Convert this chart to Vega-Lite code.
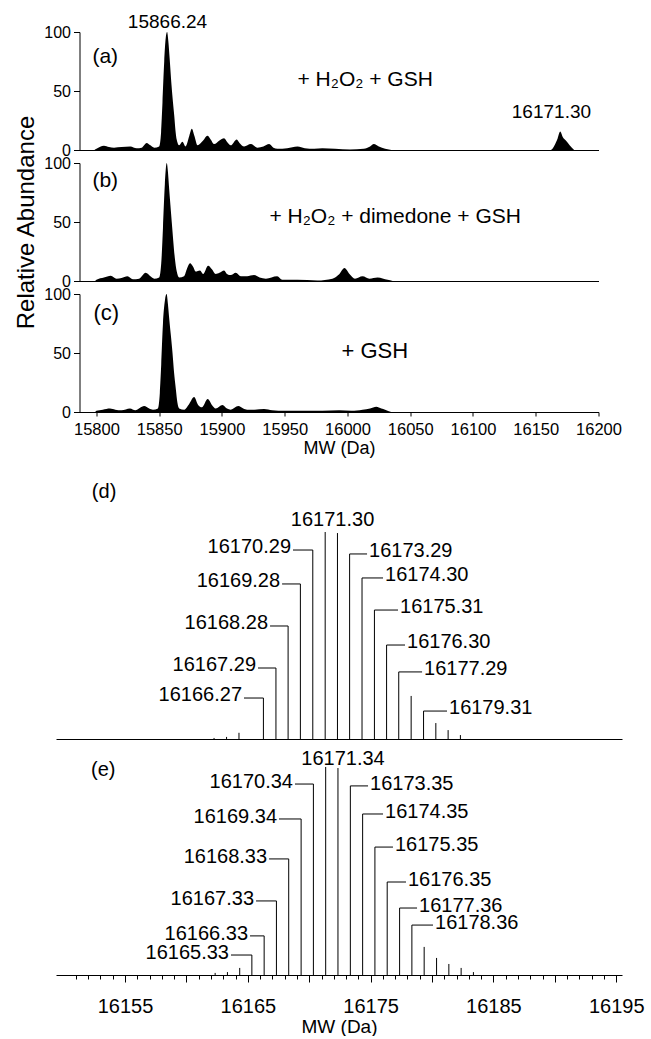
{
  "$schema": "https://vega.github.io/schema/vega-lite/v6.json",
  "padding": {"left": 14, "top": 12, "right": 5, "bottom": 0},
  "background": "white",
  "spacing": 13,
  "bounds": "flush",
  "center": true,
  "config": {
    "view": {"stroke": null},
    "font": "Liberation Sans",
    "axis": {"domainColor": "black", "tickColor": "black", "labelColor": "black", "titleColor": "black", "grid": false, "labelFont": "Liberation Sans", "titleFont": "Liberation Sans", "titleFontWeight": "normal", "domainWidth": 1, "tickWidth": 1},
    "text": {"font": "Liberation Sans", "color": "black"}
  },
  "datasets": {
    "a": [
      {"mw": 15798.4, "ab": 0}, {"mw": 15800, "ab": 1}, {"mw": 15806, "ab": 3.7}, {"mw": 15810, "ab": 2.5}, {"mw": 15814, "ab": 2}, {"mw": 15820, "ab": 2.5}, {"mw": 15827, "ab": 3}, {"mw": 15832, "ab": 1.5}, {"mw": 15836, "ab": 2}, {"mw": 15840, "ab": 6}, {"mw": 15843, "ab": 4}, {"mw": 15846, "ab": 2}, {"mw": 15850, "ab": 3},
      {"mw": 15851.5, "ab": 15}, {"mw": 15852.6, "ab": 40}, {"mw": 15854, "ab": 75}, {"mw": 15855.2, "ab": 95}, {"mw": 15856.3, "ab": 100}, {"mw": 15857.2, "ab": 93}, {"mw": 15858.3, "ab": 78}, {"mw": 15859.8, "ab": 55}, {"mw": 15861, "ab": 40}, {"mw": 15861.9, "ab": 30}, {"mw": 15863, "ab": 16}, {"mw": 15863.7, "ab": 10}, {"mw": 15865.9, "ab": 4}, {"mw": 15868.5, "ab": 7}, {"mw": 15871, "ab": 3},
      {"mw": 15874, "ab": 12}, {"mw": 15876, "ab": 18}, {"mw": 15878, "ab": 12}, {"mw": 15880.5, "ab": 4}, {"mw": 15885, "ab": 8}, {"mw": 15888.4, "ab": 12}, {"mw": 15891, "ab": 9}, {"mw": 15893.8, "ab": 5}, {"mw": 15898, "ab": 8}, {"mw": 15901.7, "ab": 10}, {"mw": 15904, "ab": 7}, {"mw": 15907, "ab": 4}, {"mw": 15911.8, "ab": 9}, {"mw": 15914, "ab": 6}, {"mw": 15917.7, "ab": 3}, {"mw": 15923, "ab": 5}, {"mw": 15928.3, "ab": 2}, {"mw": 15933, "ab": 3}, {"mw": 15937.6, "ab": 5}, {"mw": 15941, "ab": 2}, {"mw": 15944.2, "ab": 1}, {"mw": 15952, "ab": 1.5}, {"mw": 15960.2, "ab": 3}, {"mw": 15966, "ab": 1.5}, {"mw": 15973.5, "ab": 1}, {"mw": 15980, "ab": 1.5}, {"mw": 15990, "ab": 1}, {"mw": 16002, "ab": 0.5}, {"mw": 16013, "ab": 1}, {"mw": 16018, "ab": 3}, {"mw": 16021, "ab": 5}, {"mw": 16025, "ab": 3}, {"mw": 16030, "ab": 1}, {"mw": 16034, "ab": 0.3}, {"mw": 16036, "ab": 0},
      {"mw": 16162, "ab": 0}, {"mw": 16165, "ab": 4}, {"mw": 16167.5, "ab": 10}, {"mw": 16169.5, "ab": 15.6}, {"mw": 16171.5, "ab": 11}, {"mw": 16174, "ab": 8}, {"mw": 16177, "ab": 4}, {"mw": 16180.6, "ab": 0}
    ],
    "b": [
      {"mw": 15799, "ab": 0}, {"mw": 15800, "ab": 1}, {"mw": 15806, "ab": 3}, {"mw": 15811.4, "ab": 4.5}, {"mw": 15816, "ab": 2}, {"mw": 15820, "ab": 2.5}, {"mw": 15824.7, "ab": 4}, {"mw": 15829, "ab": 1.5}, {"mw": 15834, "ab": 2}, {"mw": 15839.3, "ab": 7}, {"mw": 15843, "ab": 4}, {"mw": 15846, "ab": 2}, {"mw": 15850, "ab": 3},
      {"mw": 15851.8, "ab": 18}, {"mw": 15853, "ab": 45}, {"mw": 15854.5, "ab": 82}, {"mw": 15856, "ab": 100}, {"mw": 15857, "ab": 92}, {"mw": 15857.8, "ab": 80}, {"mw": 15860, "ab": 50}, {"mw": 15861.2, "ab": 34}, {"mw": 15862.4, "ab": 20}, {"mw": 15864, "ab": 8}, {"mw": 15865.9, "ab": 3}, {"mw": 15869.8, "ab": 4}, {"mw": 15872, "ab": 10}, {"mw": 15874.6, "ab": 15}, {"mw": 15877, "ab": 12}, {"mw": 15879, "ab": 8}, {"mw": 15882.5, "ab": 9}, {"mw": 15885, "ab": 6}, {"mw": 15889, "ab": 13}, {"mw": 15892, "ab": 10}, {"mw": 15895, "ab": 6}, {"mw": 15898, "ab": 7}, {"mw": 15901.7, "ab": 9}, {"mw": 15904, "ab": 6}, {"mw": 15907, "ab": 5}, {"mw": 15911, "ab": 7}, {"mw": 15915, "ab": 4}, {"mw": 15920, "ab": 4}, {"mw": 15925.6, "ab": 5}, {"mw": 15930, "ab": 3}, {"mw": 15935, "ab": 2}, {"mw": 15944, "ab": 4}, {"mw": 15948, "ab": 1}, {"mw": 15955, "ab": 1}, {"mw": 15960, "ab": 1}, {"mw": 15976, "ab": 0.5},
      {"mw": 15988, "ab": 2}, {"mw": 15993.6, "ab": 6}, {"mw": 15997.6, "ab": 11}, {"mw": 16001.6, "ab": 6}, {"mw": 16006, "ab": 2}, {"mw": 16012, "ab": 4}, {"mw": 16017.5, "ab": 2}, {"mw": 16024, "ab": 3}, {"mw": 16032, "ab": 1}, {"mw": 16036, "ab": 0}
    ],
    "c": [
      {"mw": 15799, "ab": 0}, {"mw": 15800, "ab": 1}, {"mw": 15805, "ab": 2}, {"mw": 15810.8, "ab": 3}, {"mw": 15815, "ab": 2}, {"mw": 15820, "ab": 1.5}, {"mw": 15826.7, "ab": 3}, {"mw": 15831, "ab": 1.5}, {"mw": 15838, "ab": 5}, {"mw": 15842, "ab": 3}, {"mw": 15845, "ab": 2}, {"mw": 15849, "ab": 3},
      {"mw": 15850.5, "ab": 16}, {"mw": 15851.6, "ab": 40}, {"mw": 15853, "ab": 75}, {"mw": 15854.6, "ab": 95}, {"mw": 15855.9, "ab": 100}, {"mw": 15856.9, "ab": 92}, {"mw": 15857.9, "ab": 80}, {"mw": 15860.6, "ab": 50}, {"mw": 15861.8, "ab": 34}, {"mw": 15863.2, "ab": 20}, {"mw": 15864.5, "ab": 8}, {"mw": 15865.9, "ab": 3}, {"mw": 15870, "ab": 2}, {"mw": 15874, "ab": 7}, {"mw": 15877.8, "ab": 12.7}, {"mw": 15881, "ab": 6}, {"mw": 15884, "ab": 4}, {"mw": 15888.7, "ab": 11}, {"mw": 15892, "ab": 6}, {"mw": 15895, "ab": 3}, {"mw": 15900.4, "ab": 6}, {"mw": 15904, "ab": 3}, {"mw": 15907, "ab": 2}, {"mw": 15913, "ab": 5}, {"mw": 15917, "ab": 3}, {"mw": 15920, "ab": 2}, {"mw": 15926, "ab": 2}, {"mw": 15933.6, "ab": 2.5}, {"mw": 15940, "ab": 1.5}, {"mw": 15950, "ab": 1}, {"mw": 15960, "ab": 1}, {"mw": 15970, "ab": 1}, {"mw": 15980, "ab": 1}, {"mw": 15993.4, "ab": 1.5}, {"mw": 16003, "ab": 1}, {"mw": 16012, "ab": 2}, {"mw": 16018, "ab": 3}, {"mw": 16023, "ab": 4.5}, {"mw": 16027, "ab": 3}, {"mw": 16030, "ab": 2}, {"mw": 16034.8, "ab": 0}
    ],
    "a_num": [{"mw": 15856.6, "ab": 108.5, "t": "15866.24"}, {"mw": 16162.5, "ab": 32.2, "t": "16171.30"}],
    "a_lab": [{"mw": 15796.8, "ab": 78.8, "t": "(a)"}, {"mw": 15960.2, "ab": 59.3, "t": "+ H₂O₂ + GSH"}],
    "b_lab": [{"mw": 15796.8, "ab": 84.7, "t": "(b)"}, {"mw": 15937.8, "ab": 54.2, "t": "+  H₂O₂ + dimedone + GSH"}],
    "c_lab": [{"mw": 15797.6, "ab": 83.9, "t": "(c)"}, {"mw": 15995.2, "ab": 51.7, "t": "+ GSH"}],
    "d": [
      {"mw": 16162.25, "ab": 0.5}, {"mw": 16163.27, "ab": 1}, {"mw": 16164.28, "ab": 3}, {"mw": 16166.27, "ab": 19.8}, {"mw": 16167.29, "ab": 34.3}, {"mw": 16168.28, "ab": 54.6}, {"mw": 16169.28, "ab": 74.9}, {"mw": 16170.29, "ab": 91.3}, {"mw": 16171.30, "ab": 100}, {"mw": 16172.30, "ab": 99.5}, {"mw": 16173.29, "ab": 89.4}, {"mw": 16174.30, "ab": 77.8}, {"mw": 16175.31, "ab": 62.3}, {"mw": 16176.30, "ab": 45.4}, {"mw": 16177.29, "ab": 32.4}, {"mw": 16178.30, "ab": 20.8}, {"mw": 16179.31, "ab": 13.5}, {"mw": 16180.31, "ab": 7.7}, {"mw": 16181.31, "ab": 4.3}, {"mw": 16182.31, "ab": 1.9}
    ],
    "dL": [
      {"mw": 16170.29, "ab": 91.3, "lx": 16168.68, "t": "16170.29"},
      {"mw": 16169.28, "ab": 74.9, "lx": 16167.79, "t": "16169.28"},
      {"mw": 16168.28, "ab": 54.6, "lx": 16166.81, "t": "16168.28"},
      {"mw": 16167.29, "ab": 34.3, "lx": 16165.83, "t": "16167.29"},
      {"mw": 16166.27, "ab": 19.8, "lx": 16164.69, "t": "16166.27"}
    ],
    "dR": [
      {"mw": 16173.29, "ab": 89.4, "lx": 16174.71, "t": "16173.29"},
      {"mw": 16174.30, "ab": 77.8, "lx": 16176.01, "t": "16174.30"},
      {"mw": 16175.31, "ab": 62.3, "lx": 16177.23, "t": "16175.31"},
      {"mw": 16176.30, "ab": 45.4, "lx": 16177.80, "t": "16176.30"},
      {"mw": 16177.29, "ab": 32.4, "lx": 16179.19, "t": "16177.29"},
      {"mw": 16179.31, "ab": 13.5, "lx": 16181.22, "t": "16179.31"}
    ],
    "dT": [{"mw": 16171.9, "ab": 105.8, "t": "16171.30"}],
    "dP": [{"mw": 16152.3, "ab": 119.3, "t": "(d)"}],
    "e": [
      {"mw": 16162.34, "ab": 1.0}, {"mw": 16163.34, "ab": 1.4}, {"mw": 16164.34, "ab": 3.4}, {"mw": 16165.33, "ab": 9.6}, {"mw": 16166.33, "ab": 18.8}, {"mw": 16167.33, "ab": 35.6}, {"mw": 16168.33, "ab": 55.8}, {"mw": 16169.34, "ab": 75.0}, {"mw": 16170.34, "ab": 91.8}, {"mw": 16171.34, "ab": 100}, {"mw": 16172.34, "ab": 99.5}, {"mw": 16173.35, "ab": 90.9}, {"mw": 16174.35, "ab": 77.4}, {"mw": 16175.35, "ab": 61.5}, {"mw": 16176.35, "ab": 44.7}, {"mw": 16177.36, "ab": 32.2}, {"mw": 16178.36, "ab": 24.0}, {"mw": 16179.36, "ab": 13.5}, {"mw": 16180.37, "ab": 8.2}, {"mw": 16181.37, "ab": 5.3}, {"mw": 16182.37, "ab": 3.4}, {"mw": 16183.37, "ab": 1.4}
    ],
    "eL": [
      {"mw": 16170.34, "ab": 91.8, "lx": 16168.84, "t": "16170.34"},
      {"mw": 16169.34, "ab": 75.0, "lx": 16167.54, "t": "16169.34"},
      {"mw": 16168.33, "ab": 55.8, "lx": 16166.73, "t": "16168.33"},
      {"mw": 16167.33, "ab": 35.6, "lx": 16165.67, "t": "16167.33"},
      {"mw": 16166.33, "ab": 18.8, "lx": 16165.18, "t": "16166.33"},
      {"mw": 16165.33, "ab": 9.6, "lx": 16163.63, "t": "16165.33"}
    ],
    "eR": [
      {"mw": 16173.35, "ab": 90.9, "lx": 16174.79, "t": "16173.35"},
      {"mw": 16174.35, "ab": 77.4, "lx": 16176.01, "t": "16174.35"},
      {"mw": 16175.35, "ab": 61.5, "lx": 16176.82, "t": "16175.35"},
      {"mw": 16176.35, "ab": 44.7, "lx": 16177.88, "t": "16176.35"},
      {"mw": 16177.36, "ab": 32.2, "lx": 16178.78, "t": "16177.36"},
      {"mw": 16178.36, "ab": 24.0, "lx": 16180.08, "t": "16178.36"}
    ],
    "eT": [{"mw": 16172.75, "ab": 103.8, "t": "16171.34"}],
    "eP": [{"mw": 16152.23, "ab": 98.6, "t": "(e)"}]
  },
  "vconcat": [
    {
      "width": 519, "height": 118,
      "encoding": {
        "x": {"field": "mw", "type": "quantitative", "scale": {"domain": [15786.5, 16200], "nice": false, "zero": false}, "axis": {"labels": false, "ticks": false, "title": null}},
        "y": {"field": "ab", "type": "quantitative", "scale": {"domain": [0, 100], "nice": false}, "axis": {"values": [0, 50, 100], "title": null, "tickSize": 6, "labelPadding": 3, "labelFontSize": 16, "labelFlush": false}}
      },
      "layer": [
        {"data": {"name": "a"}, "mark": {"type": "area", "color": "black", "interpolate": "monotone"}},
        {"data": {"name": "a_num"}, "mark": {"type": "text", "align": "center", "baseline": "middle", "fontSize": 19}, "encoding": {"text": {"field": "t"}}},
        {"data": {"name": "a_lab"}, "mark": {"type": "text", "align": "left", "baseline": "middle", "fontSize": 21}, "encoding": {"text": {"field": "t"}}}
      ]
    },
    {
      "width": 519, "height": 118,
      "encoding": {
        "x": {"field": "mw", "type": "quantitative", "scale": {"domain": [15786.5, 16200], "nice": false, "zero": false}, "axis": {"labels": false, "ticks": false, "title": null}},
        "y": {"field": "ab", "type": "quantitative", "scale": {"domain": [0, 100], "nice": false}, "axis": {"values": [0, 50, 100], "title": "Relative Abundance", "titleFontSize": 24, "titlePadding": 5, "tickSize": 6, "labelPadding": 3, "labelFontSize": 16, "labelFlush": false}}
      },
      "layer": [
        {"data": {"name": "b"}, "mark": {"type": "area", "color": "black", "interpolate": "monotone"}},
        {"data": {"name": "b_lab"}, "mark": {"type": "text", "align": "left", "baseline": "middle", "fontSize": 21}, "encoding": {"text": {"field": "t"}}}
      ]
    },
    {
      "width": 519, "height": 118,
      "encoding": {
        "x": {"field": "mw", "type": "quantitative", "scale": {"domain": [15786.5, 16200], "nice": false, "zero": false}, "axis": {"values": [15800, 15850, 15900, 15950, 16000, 16050, 16100, 16150, 16200], "format": "d", "labelOverlap": false, "labelFlush": false, "labelBound": false, "tickSize": 4, "labelPadding": 5, "labelFontSize": 16.5, "title": "MW (Da)", "titleFontSize": 18, "titlePadding": 2}},
        "y": {"field": "ab", "type": "quantitative", "scale": {"domain": [0, 100], "nice": false}, "axis": {"values": [0, 50, 100], "title": null, "tickSize": 6, "labelPadding": 3, "labelFontSize": 16, "labelFlush": false}}
      },
      "layer": [
        {"data": {"name": "c"}, "mark": {"type": "area", "color": "black", "interpolate": "monotone"}},
        {"data": {"name": "c_lab"}, "mark": {"type": "text", "align": "left", "baseline": "middle", "fontSize": 22}, "encoding": {"text": {"field": "t"}}}
      ]
    },
    {
      "width": 566, "height": 314,
      "encoding": {
        "x": {"field": "mw", "type": "quantitative", "scale": {"domain": [16149.38, 16195.47], "nice": false, "zero": false}, "axis": {"labels": false, "ticks": false, "title": null}},
        "y": {"field": "ab", "type": "quantitative", "scale": {"domain": [0, 151.7], "nice": false}, "axis": null}
      },
      "layer": [
        {"data": {"name": "d"}, "mark": {"type": "rule", "color": "black", "strokeWidth": 1}, "encoding": {"y2": {"datum": 0}}},
        {"data": {"name": "dL"}, "mark": {"type": "rule", "color": "black", "strokeWidth": 1}, "encoding": {"x2": {"field": "lx"}}},
        {"data": {"name": "dR"}, "mark": {"type": "rule", "color": "black", "strokeWidth": 1}, "encoding": {"x2": {"field": "lx"}}},
        {"data": {"name": "dL"}, "mark": {"type": "text", "align": "right", "baseline": "middle", "fontSize": 20, "dx": -2, "dy": -3}, "encoding": {"x": {"field": "lx", "type": "quantitative"}, "text": {"field": "t"}}},
        {"data": {"name": "dR"}, "mark": {"type": "text", "align": "left", "baseline": "middle", "fontSize": 20, "dx": 2, "dy": -3}, "encoding": {"x": {"field": "lx", "type": "quantitative"}, "text": {"field": "t"}}},
        {"data": {"name": "dT"}, "mark": {"type": "text", "align": "center", "baseline": "middle", "fontSize": 20}, "encoding": {"text": {"field": "t"}}},
        {"data": {"name": "dP"}, "mark": {"type": "text", "align": "left", "baseline": "middle", "fontSize": 20}, "encoding": {"text": {"field": "t"}}}
      ]
    },
    {
      "width": 566, "height": 223,
      "encoding": {
        "x": {"field": "mw", "type": "quantitative", "scale": {"domain": [16149.38, 16195.47], "nice": false, "zero": false}, "axis": {"values": [16151, 16152, 16153, 16154, 16155, 16156, 16157, 16158, 16159, 16160, 16161, 16162, 16163, 16164, 16165, 16166, 16167, 16168, 16169, 16170, 16171, 16172, 16173, 16174, 16175, 16176, 16177, 16178, 16179, 16180, 16181, 16182, 16183, 16184, 16185, 16186, 16187, 16188, 16189, 16190, 16191, 16192, 16193, 16194, 16195], "format": "d", "labelExpr": "(datum.value - 16155) % 10 === 0 ? datum.label : ''", "tickSize": {"condition": {"test": "datum.value % 5 === 0", "value": 7}, "value": 4}, "labelPadding": 14, "labelFontSize": 20, "labelOverlap": false, "labelFlush": false, "labelBound": false, "title": "MW (Da)", "titleFontSize": 19, "titlePadding": 1}},
        "y": {"field": "ab", "type": "quantitative", "scale": {"domain": [0, 107.2], "nice": false}, "axis": null}
      },
      "layer": [
        {"data": {"name": "e"}, "mark": {"type": "rule", "color": "black", "strokeWidth": 1}, "encoding": {"y2": {"datum": 0}}},
        {"data": {"name": "eL"}, "mark": {"type": "rule", "color": "black", "strokeWidth": 1}, "encoding": {"x2": {"field": "lx"}}},
        {"data": {"name": "eR"}, "mark": {"type": "rule", "color": "black", "strokeWidth": 1}, "encoding": {"x2": {"field": "lx"}}},
        {"data": {"name": "eL"}, "mark": {"type": "text", "align": "right", "baseline": "middle", "fontSize": 20, "dx": -2, "dy": -2}, "encoding": {"x": {"field": "lx", "type": "quantitative"}, "text": {"field": "t"}}},
        {"data": {"name": "eR"}, "mark": {"type": "text", "align": "left", "baseline": "middle", "fontSize": 20, "dx": 2, "dy": -2}, "encoding": {"x": {"field": "lx", "type": "quantitative"}, "text": {"field": "t"}}},
        {"data": {"name": "eT"}, "mark": {"type": "text", "align": "center", "baseline": "middle", "fontSize": 20}, "encoding": {"text": {"field": "t"}}},
        {"data": {"name": "eP"}, "mark": {"type": "text", "align": "left", "baseline": "middle", "fontSize": 20}, "encoding": {"text": {"field": "t"}}}
      ]
    }
  ]
}
